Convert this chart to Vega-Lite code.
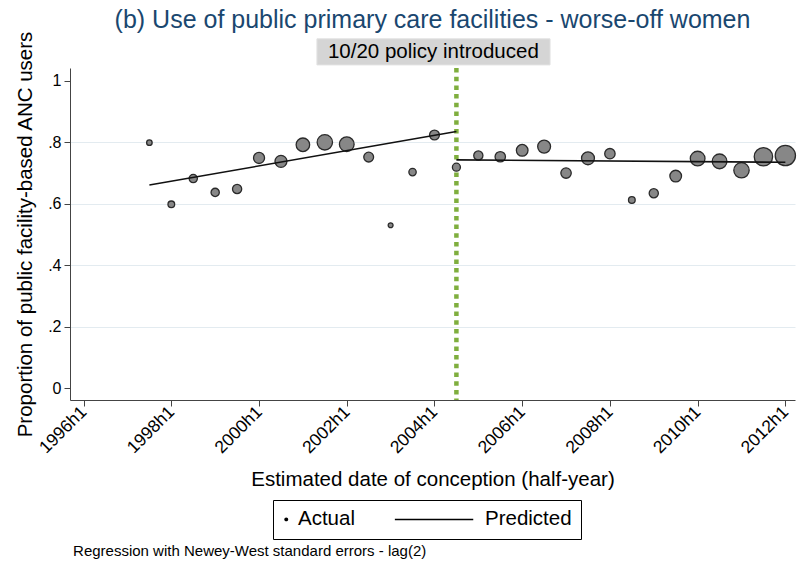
{
  "$schema": "https://vega.github.io/schema/vega-lite/v6.json",
  "width": 725,
  "height": 332,
  "autosize": {"type": "none"},
  "padding": {"left": 70, "top": 68, "right": 4, "bottom": 166},
  "background": "white",
  "config": {"font": "Liberation Sans", "view": {"stroke": null}},
  "title": {
    "text": "(b) Use of public primary care facilities - worse-off women",
    "fontSize": 25,
    "fontWeight": "normal",
    "color": "#1a476f",
    "anchor": "middle",
    "frame": "group",
    "baseline": "alphabetic",
    "offset": 11,
    "dy": 33
  },
  "datasets": {
    "actual": [
      {"t": 3, "value": 0.799, "w": 36},
      {"t": 4, "value": 0.598, "w": 53},
      {"t": 5, "value": 0.682, "w": 81},
      {"t": 6, "value": 0.637, "w": 81},
      {"t": 7, "value": 0.648, "w": 100},
      {"t": 8, "value": 0.749, "w": 144},
      {"t": 9, "value": 0.738, "w": 169},
      {"t": 10, "value": 0.792, "w": 216},
      {"t": 11, "value": 0.800, "w": 279},
      {"t": 12, "value": 0.794, "w": 256},
      {"t": 13, "value": 0.752, "w": 114},
      {"t": 14, "value": 0.530, "w": 28},
      {"t": 15, "value": 0.703, "w": 64},
      {"t": 16, "value": 0.824, "w": 114},
      {"t": 17, "value": 0.719, "w": 76},
      {"t": 18, "value": 0.757, "w": 100},
      {"t": 19, "value": 0.753, "w": 128},
      {"t": 20, "value": 0.774, "w": 161},
      {"t": 21, "value": 0.786, "w": 196},
      {"t": 22, "value": 0.700, "w": 128},
      {"t": 23, "value": 0.748, "w": 196},
      {"t": 24, "value": 0.763, "w": 128},
      {"t": 25, "value": 0.612, "w": 53},
      {"t": 26, "value": 0.634, "w": 100},
      {"t": 27, "value": 0.690, "w": 161},
      {"t": 28, "value": 0.747, "w": 256},
      {"t": 29, "value": 0.738, "w": 256},
      {"t": 30, "value": 0.709, "w": 279},
      {"t": 31, "value": 0.753, "w": 400},
      {"t": 32, "value": 0.757, "w": 484}
    ],
    "pred": [
      {"seg": "pre", "t": 3, "value": 0.661},
      {"seg": "pre", "t": 17, "value": 0.835},
      {"seg": "post", "t": 17, "value": 0.743},
      {"seg": "post", "t": 32, "value": 0.735}
    ],
    "events": [
      {"t": 17, "label": "10/20 policy introduced"}
    ],
    "notes": [
      {"note": "Regression with Newey-West standard errors - lag(2)"}
    ]
  },
  "layer": [
    {
      "data": {"name": "events"},
      "mark": {"type": "rect", "fill": "#d5d5d5", "stroke": "#e2e2e2", "strokeWidth": 1, "clip": false},
      "encoding": {
        "x": {"datum": 10.64, "type": "quantitative"},
        "x2": {"datum": 21.27},
        "y": {"datum": 1.137, "type": "quantitative"},
        "y2": {"datum": 1.052}
      }
    },
    {
      "data": {"name": "events"},
      "mark": {"type": "text", "fontSize": 20.5, "color": "black", "align": "center", "baseline": "middle", "clip": false},
      "encoding": {
        "x": {"datum": 15.95, "type": "quantitative"},
        "y": {"datum": 1.094, "type": "quantitative"},
        "text": {"field": "label"}
      }
    },
    {
      "data": {"name": "events"},
      "mark": {"type": "rule", "color": "#7fae3e", "strokeWidth": 4.5, "strokeDash": [4.5, 4.2]},
      "encoding": {
        "x": {"field": "t", "type": "quantitative"}
      }
    },
    {
      "data": {"name": "actual"},
      "mark": {"type": "point", "filled": true, "fill": "#878787", "stroke": "#2a2a2a", "strokeWidth": 1.3, "opacity": 1},
      "encoding": {
        "x": {
          "field": "t",
          "type": "quantitative",
          "scale": {"domain": [-0.62, 32.44], "nice": false, "zero": false},
          "axis": {
            "title": "Estimated date of conception (half-year)",
            "values": [0, 4, 8, 12, 16, 20, 24, 28, 32],
            "labelExpr": "(1996 + floor(datum.value / 2)) + 'h' + (datum.value % 2 + 1)",
            "labelAngle": -45,
            "labelAlign": "right",
            "labelBaseline": "middle",
            "labelFontSize": 17.5,
            "labelColor": "black",
            "labelPadding": 3,
            "tickSize": 6,
            "tickColor": "#444",
            "domainColor": "#444",
            "grid": false,
            "titleFontSize": 20.5,
            "titleFontWeight": "normal",
            "titleColor": "black",
            "titlePadding": 13
          }
        },
        "y": {
          "field": "value",
          "type": "quantitative",
          "scale": {"domain": [-0.039, 1.042], "nice": false, "zero": false},
          "axis": {
            "title": "Proportion of public facility-based ANC users",
            "values": [0, 0.1, 0.2, 0.3, 0.4, 0.5, 0.6, 0.7, 0.8, 0.9, 1],
            "labelExpr": "datum.value == 0 ? '0' : datum.value == 1 ? '1' : replace(format(datum.value, '.1f'), '0.', '.')",
            "labelFontSize": 16,
            "labelColor": "black",
            "labelPadding": 3,
            "tickSize": 6,
            "tickColor": "#444",
            "domainColor": "#444",
            "grid": true,
            "gridColor": {"condition": {"test": "datum.value == 0 || datum.value == 1", "value": "transparent"}, "value": "#e3ebf0"},
            "titleFontSize": 20.5,
            "titleFontWeight": "normal",
            "titleColor": "black",
            "titlePadding": 12
          }
        },
        "size": {
          "field": "w",
          "type": "quantitative",
          "scale": {"domain": [0, 484], "range": [0, 410]},
          "legend": null
        },
        "shape": {
          "datum": "Actual",
          "type": "nominal",
          "scale": {"domain": ["Actual", "Predicted"], "range": ["circle", "M-64,0H0"]},
          "legend": {
            "title": null,
            "orient": "none",
            "legendX": 203,
            "legendY": 432,
            "direction": "horizontal",
            "padding": 9,
            "strokeColor": "black",
            "fillColor": "white",
            "labelFontSize": 20.5,
            "labelColor": "black",
            "labelOffset": 1.5,
            "symbolSize": 6,
            "symbolOffset": -6,
            "columnPadding": 36,
            "encoding": {
              "symbols": {
                "fill": {"value": "black"},
                "stroke": {"value": "black"},
                "strokeWidth": {"value": 1.5}
              }
            }
          }
        }
      }
    },
    {
      "data": {"name": "pred"},
      "mark": {"type": "line", "color": "#111111", "strokeWidth": 1.6},
      "encoding": {
        "x": {"field": "t", "type": "quantitative"},
        "y": {"field": "value", "type": "quantitative"},
        "detail": {"field": "seg"}
      }
    },
    {
      "data": {"name": "notes"},
      "mark": {"type": "text", "fontSize": 15, "color": "black", "align": "left", "baseline": "middle", "clip": false},
      "encoding": {
        "x": {"datum": -0.48, "type": "quantitative"},
        "y": {"datum": -0.531, "type": "quantitative"},
        "text": {"field": "note"}
      }
    }
  ]
}
